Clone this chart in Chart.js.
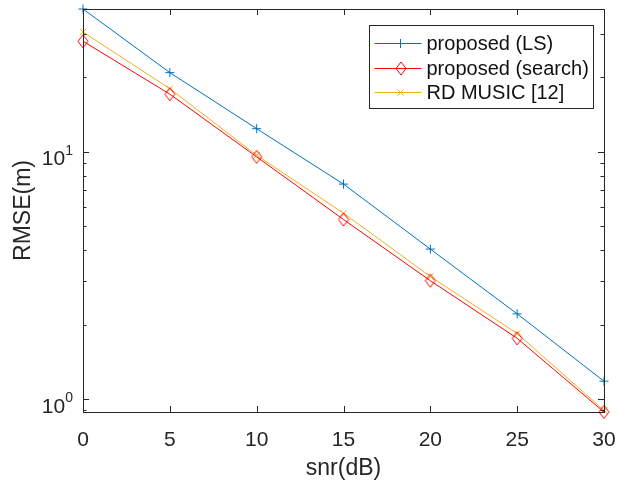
<!DOCTYPE html>
<html>
<head>
<meta charset="utf-8">
<script src="https://cdn.jsdelivr.net/npm/chart.js@4/dist/chart.umd.min.js"></script>
<style>
  html, body { margin: 0; padding: 0; background: #fff; }
  canvas { display: block; }
</style>
</head>
<body>
<canvas id="c" width="617" height="483"></canvas>
<script>
// ── data ──
const snr = [0, 5, 10, 15, 20, 25, 30];
const rmseLS = [37.8, 20.9, 12.4, 7.4, 4.04, 2.21, 1.18];
const rmseSearch = [28.0, 17.1, 9.54, 5.32, 3.01, 1.76, 0.886];
const rmseMusic = [30.5, 18.0, 9.68, 5.64, 3.13, 1.84, 0.90];
const seriesNames = ['proposed (LS)', 'proposed (search)', 'RD MUSIC [12]'];
const xTicks = [0, 5, 10, 15, 20, 25, 30];
const yMajor = [1, 10];

const AXIS = '#262626';
const FONT = '"Liberation Sans", Arial, Helvetica, sans-serif';
const BLUE = '#0072BD', RED = '#FF0000', GOLD = '#EDB120';

const allVals = rmseLS.concat(rmseSearch, rmseMusic);
const yMin = Math.min(...allVals);
const yMax = Math.max(...allVals);

// tall hollow diamond, MATLAB style
function diamond(w, h, color) {
    const cv = document.createElement('canvas');
    cv.width = w + 2; cv.height = h + 2;
    const g = cv.getContext('2d');
    g.strokeStyle = color;
    g.lineWidth = 1;
    g.beginPath();
    g.moveTo(cv.width / 2, 1);
    g.lineTo(cv.width - 1, cv.height / 2);
    g.lineTo(cv.width / 2, cv.height - 1);
    g.lineTo(1, cv.height / 2);
    g.closePath();
    g.stroke();
    return cv;
}
const redDiamond = diamond(10, 13, RED);

const pts = arr => arr.map((v, i) => ({ x: snr[i], y: v }));

// ── axes box, inward ticks, log tick labels ──
const frame = {
    id: 'frame',
    afterDatasetsDraw(chart) {
        const { ctx, chartArea: a, scales: { x, y } } = chart;
        ctx.save();
        ctx.strokeStyle = AXIS;
        ctx.lineWidth = 1;
        ctx.strokeRect(Math.round(a.left) + 0.5, Math.round(a.top) + 0.5,
            Math.round(a.right - a.left), Math.round(a.bottom - a.top));
        ctx.beginPath();
        xTicks.forEach(t => {
            const px = Math.round(x.getPixelForValue(t)) + 0.5;
            ctx.moveTo(px, a.bottom); ctx.lineTo(px, a.bottom - 6);
            ctx.moveTo(px, a.top); ctx.lineTo(px, a.top + 6);
        });
        // log ticks: majors at decades, minors at 2..9
        for (let e = Math.floor(Math.log10(yMin)) - 1; e <= Math.ceil(Math.log10(yMax)); e++) {
            for (let k = 1; k <= 9; k++) {
                const v = k * Math.pow(10, e);
                if (v < yMin || v > yMax) continue;
                const len = k === 1 ? 6 : 3.5;
                const py = Math.round(y.getPixelForValue(v)) + 0.5;
                ctx.moveTo(a.left, py); ctx.lineTo(a.left + len, py);
                ctx.moveTo(a.right, py); ctx.lineTo(a.right - len, py);
            }
        }
        ctx.stroke();

        ctx.fillStyle = AXIS;
        ctx.textBaseline = 'alphabetic';
        yMajor.forEach(v => {
            const py = y.getPixelForValue(v);
            const exp = String(Math.round(Math.log10(v)));
            ctx.font = '21px ' + FONT;
            const wb = ctx.measureText('10').width;
            ctx.font = '14px ' + FONT;
            const we = ctx.measureText(exp).width;
            const right = a.left - 10;
            ctx.font = '21px ' + FONT;
            ctx.textAlign = 'left';
            ctx.fillText('10', right - we - wb, py + 13.5);
            ctx.font = '14px ' + FONT;
            ctx.fillText(exp, right - we, py + 3);
        });
        ctx.restore();
    },
    afterDraw(chart) {
        const { ctx, chartArea: a } = chart;
        const bw = 224, bh = 83;
        const bx = Math.round(a.right - 10.7 - bw) + 0.5;
        const by = Math.round(a.top + 16) + 0.5;
        ctx.save();
        ctx.fillStyle = '#fff';
        ctx.fillRect(bx, by, bw, bh);
        ctx.strokeStyle = AXIS;
        ctx.lineWidth = 1;
        ctx.strokeRect(bx, by, bw, bh);
        chart.data.datasets.forEach((ds, i) => {
            const ry = Math.round(by + 17.5 + i * 24.5) + 0.5;
            ctx.strokeStyle = ds.borderColor;
            ctx.beginPath();
            ctx.moveTo(bx + 5, ry); ctx.lineTo(bx + 52, ry);
            ctx.stroke();
            const mx = Math.round(bx + 30) + 0.5;
            const r = ds.pointRadius;
            ctx.beginPath();
            if (ds.pointStyle === 'cross') {
                ctx.moveTo(mx - r, ry); ctx.lineTo(mx + r, ry);
                ctx.moveTo(mx, ry - r); ctx.lineTo(mx, ry + r);
                ctx.stroke();
            } else if (ds.pointStyle === 'crossRot') {
                const d = r * Math.SQRT1_2;
                ctx.moveTo(mx - d, ry - d); ctx.lineTo(mx + d, ry + d);
                ctx.moveTo(mx + d, ry - d); ctx.lineTo(mx - d, ry + d);
                ctx.stroke();
            } else {
                const img = ds.pointStyle;
                ctx.drawImage(img, Math.round(mx - img.width / 2), Math.round(ry - img.height / 2));
            }
            ctx.fillStyle = '#111';
            ctx.font = '20px ' + FONT;
            ctx.textAlign = 'left';
            ctx.textBaseline = 'middle';
            ctx.fillText(ds.label, bx + 57, ry + 1);
        });
        ctx.restore();
    }
};

function line(label, data, color, style, radius) {
    return {
        label,
        data: pts(data),
        borderColor: color,
        backgroundColor: 'transparent',
        borderWidth: 1,
        pointStyle: style,
        pointRadius: radius,
        pointBorderColor: color,
        pointBorderWidth: 1,
        pointBackgroundColor: 'transparent',
        tension: 0,
        clip: false,
    };
}

new Chart(document.getElementById('c'), {
    type: 'line',
    data: {
        datasets: [
            line(seriesNames[0], rmseLS, BLUE, 'cross', 4.5),
            line(seriesNames[1], rmseSearch, RED, redDiamond, 6),
            line(seriesNames[2], rmseMusic, GOLD, 'crossRot', 4.5),
        ]
    },
    options: {
        responsive: false,
        animation: false,
        layout: { padding: { left: 0, top: 9, right: 13, bottom: 0 } },
        plugins: {
            legend: { display: false },
            tooltip: { enabled: false }
        },
        scales: {
            x: {
                type: 'linear',
                min: 0,
                max: 30,
                grid: { display: false, drawTicks: false },
                border: { display: false },
                ticks: {
                    stepSize: 5,
                    autoSkip: false,
                    maxRotation: 0,
                    padding: 16,
                    color: AXIS,
                    font: { family: FONT, size: 21 }
                },
                title: {
                    display: true,
                    text: 'snr(dB)',
                    color: AXIS,
                    padding: { top: 0, bottom: 1 },
                    font: { family: FONT, size: 23 }
                },
                afterFit(scale) {
                    scale.height = 71;
                    scale.paddingLeft = 0;
                    scale.paddingRight = 0;
                }
            },
            y: {
                type: 'logarithmic',
                min: yMin,
                max: yMax,
                grid: { display: false, drawTicks: false },
                border: { display: false },
                ticks: { display: false },
                title: {
                    display: true,
                    text: 'RMSE(m)',
                    color: AXIS,
                    padding: { top: 10, bottom: 0 },
                    font: { family: FONT, size: 23 }
                },
                afterFit(scale) {
                    scale.width = 83;
                    scale.paddingTop = 0;
                    scale.paddingBottom = 0;
                }
            }
        }
    },
    plugins: [frame]
});
</script>
</body>
</html>
